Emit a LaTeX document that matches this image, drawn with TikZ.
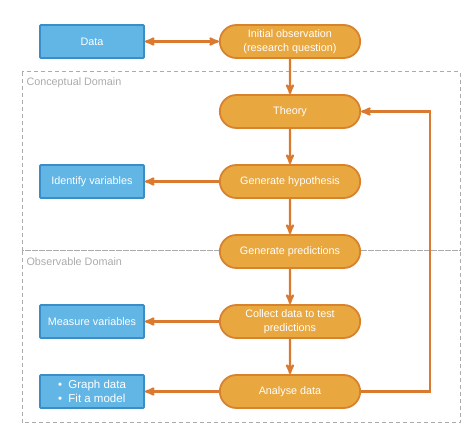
\documentclass[tikz,border=0pt]{standalone}
\usepackage{fontspec}
\setmainfont{Liberation Sans}
\usepackage{tikz}
\usetikzlibrary{arrows}
\usetikzlibrary{positioning,shapes.misc}
\definecolor{pillfill}{HTML}{E9A740}
\definecolor{pillline}{HTML}{D9822E}
\definecolor{boxfill}{HTML}{62B6E6}
\definecolor{boxline}{HTML}{3B8DC8}
\definecolor{linkcol}{HTML}{D97A30}
\definecolor{domaincol}{HTML}{ABABAB}
\begin{document}
\begin{tikzpicture}[>=stealth',auto,node distance=70pt,
                    step node/.style={rounded rectangle,draw=pillline,fill=pillfill,line width=1.8pt,
                      minimum width=147pt,minimum height=33pt,text=white,align=center,
                      font=\fontsize{10.8}{13.5}\selectfont},
                    side node/.style={rectangle,rounded corners=1pt,draw=boxline,fill=boxfill,line width=1.8pt,
                      minimum width=104pt,minimum height=33pt,text=white,
                      font=\fontsize{10.8}{13.5}\selectfont},
                    link/.style={draw=linkcol,line width=2.2pt},
                    domain box/.style={draw=domaincol,dash pattern=on 4pt off 3pt,line width=1pt}]

      \useasboundingbox (0,0) rectangle (474pt,-427pt);

      % the two domains
      \draw[domain box] (22pt,-72pt) rectangle (460pt,-251pt);
      \draw[domain box] (22pt,-251pt) rectangle (460pt,-423pt);
      \node[text=domaincol,font=\fontsize{10.8}{13}\selectfont,anchor=west] (concept) at (23pt,-83pt) {Conceptual Domain};
      \node[text=domaincol,font=\fontsize{10.8}{13}\selectfont,anchor=west] (observe) at (23pt,-262pt) {Observable Domain};

      % main steps
      \node[step node] (obs) at (290pt,-41.5pt) {Initial observation\\(research question)};
      \node[step node] (theory) [below of=obs] {Theory};
      \node[step node] (hyp) [below of=theory] {Generate hypothesis};
      \node[step node] (pred) [below of=hyp] {Generate predictions};
      \node[step node] (collect) [below of=pred] {Collect data to test\\predictions};
      \node[step node] (analyse) [below of=collect] {Analyse data};

      % side boxes
      \node[side node] (data) [left of=obs,node distance=198pt] {Data};
      \node[side node] (ident) [left of=hyp,node distance=198pt] {Identify variables};
      \node[side node] (measure) [left of=collect,node distance=198pt] {Measure variables};
      \node[side node,align=left,font=\fontsize{11.5}{13.5}\selectfont] (graph) [left of=analyse,node distance=198pt]
        {\textbullet\ \ Graph data\\\textbullet\ \ Fit a model};

      \path[link]
        (data) edge[<->] (obs)
        (obs) edge[->] (theory)
        (theory) edge[->] (hyp)
        (hyp) edge[->] (pred)
        (pred) edge[->] (collect)
        (collect) edge[->] (analyse)
        (hyp) edge[->] (ident)
        (collect) edge[->] (measure)
        (analyse) edge[->] (graph);
      \draw[link,->] (analyse.east) -- ++(69pt,0) |- (theory.east);
    \end{tikzpicture}
\end{document}
